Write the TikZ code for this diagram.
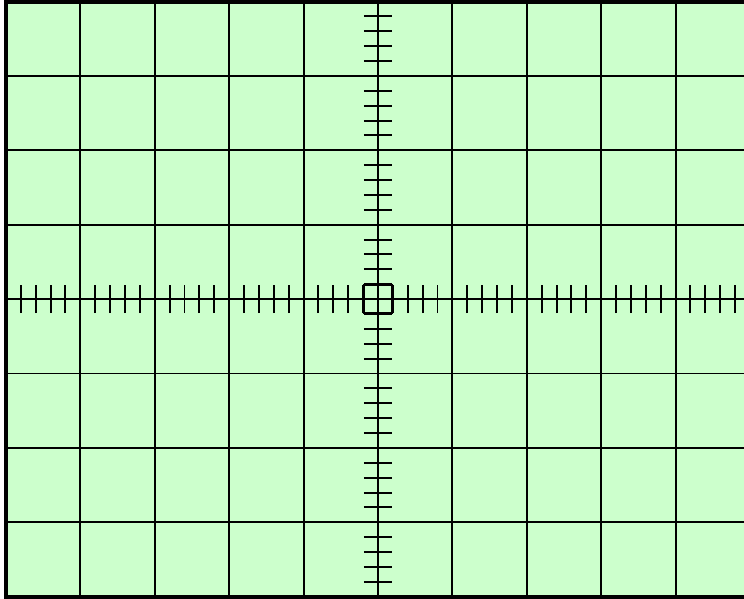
\documentclass[tikz,border=0pt]{standalone}
\usepackage{tikz}
\definecolor{screen}{HTML}{CCFFCC}
\tikzset{
	grid line/.style={line width=0.75pt, black},
	tick line/.style={line width=0.75pt, black},
	frame line/.style={line width=1.6pt, black}
}
\begin{document}
\begin{tikzpicture}
	\useasboundingbox (-0.08,-0.02) rectangle (9.92,8.02);
	\clip (-0.08,-0.02) rectangle (9.92,8.02);
	\fill [screen] (0,0) rectangle (10,8);
	% divisions
	\foreach \x in {1,...,9}
		\draw [grid line] (\x,0) -- (\x,8);
	\foreach \y in {1,...,7}
		\draw [grid line] (0,\y) -- (10,\y);
	% minor ticks on the axes
	\foreach \i in {0,...,9}
		\foreach \k in {1,...,4}
			\draw [tick line] (\i+\k/5,3.81) -- (\i+\k/5,4.19);
	\foreach \j in {0,...,7}
		\foreach \k in {1,...,4}
			\draw [tick line] (4.81,\j+\k/5) -- (5.19,\j+\k/5);
	\draw [tick line] (4.815,3.815) rectangle (5.185,4.185);
	\draw [frame line] (0,0) rectangle (10,8);
\end{tikzpicture}
\end{document}
